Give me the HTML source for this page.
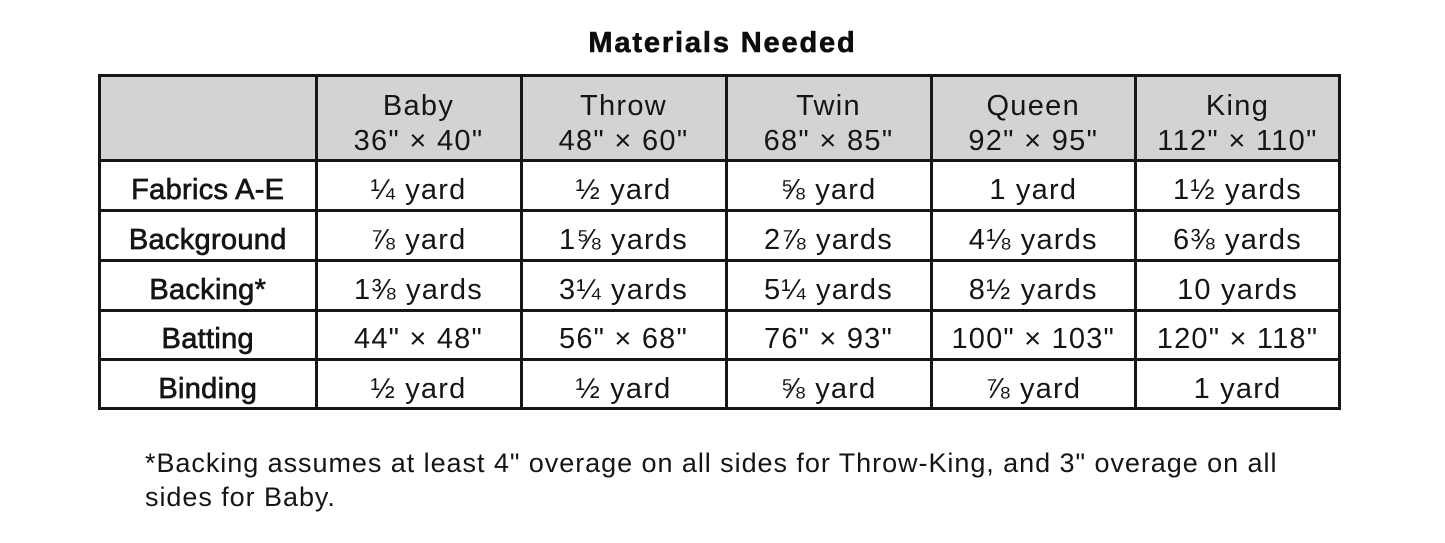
<!DOCTYPE html>
<html><head><meta charset="utf-8"><style>
html,body{margin:0;padding:0;background:#fff;}
body{width:1445px;height:543px;position:relative;overflow:hidden;font-family:"Liberation Sans",Arial,sans-serif;color:#151515;}
.a{position:absolute;}
.ln{position:absolute;background:#161616;}
.t{position:absolute;text-align:center;font-size:29px;line-height:29px;white-space:nowrap;letter-spacing:1.2px;}
.h{position:absolute;text-align:center;font-size:29px;line-height:35px;white-space:nowrap;letter-spacing:1.3px;}
.lbl{-webkit-text-stroke:0.7px #151515;letter-spacing:0.3px;}
</style></head><body>
<div class="a" style="left:0;width:1445px;top:28.5px;text-align:center;font-size:29px;line-height:29px;font-weight:bold;letter-spacing:1.85px;color:#0d0d0d;-webkit-text-stroke:0.6px #0d0d0d;">Materials Needed</div>

<div class="a" style="left:100px;top:76px;width:1240px;height:84px;background:#d1d3d4;"></div>

<div class="ln" style="left:98px;top:74px;width:1243px;height:3px;"></div>
<div class="ln" style="left:98px;top:407px;width:1243px;height:3px;"></div>
<div class="ln" style="left:98px;top:74px;width:3px;height:336px;"></div>
<div class="ln" style="left:1338px;top:74px;width:3px;height:336px;"></div>

<div class="ln" style="left:314.5px;top:74px;width:3px;height:336px;"></div>
<div class="ln" style="left:519.5px;top:74px;width:3px;height:336px;"></div>
<div class="ln" style="left:724.5px;top:74px;width:3px;height:336px;"></div>
<div class="ln" style="left:929.5px;top:74px;width:3px;height:336px;"></div>
<div class="ln" style="left:1134px;top:74px;width:3px;height:336px;"></div>

<div class="ln" style="left:98px;top:159px;width:1243px;height:3px;"></div>
<div class="ln" style="left:98px;top:209px;width:1243px;height:3px;"></div>
<div class="ln" style="left:98px;top:259px;width:1243px;height:3px;"></div>
<div class="ln" style="left:98px;top:308.5px;width:1243px;height:3px;"></div>
<div class="ln" style="left:98px;top:358px;width:1243px;height:3px;"></div>

<!-- header -->
<div class="h" style="left:316px;width:205px;top:89px;">Baby<br>36" × 40"</div>
<div class="h" style="left:521px;width:205px;top:89px;">Throw<br>48" × 60"</div>
<div class="h" style="left:726px;width:205px;top:89px;">Twin<br>68" × 85"</div>
<div class="h" style="left:931px;width:204.5px;top:89px;">Queen<br>92" × 95"</div>
<div class="h" style="left:1135.5px;width:204px;top:89px;">King<br>112" × 110"</div>

<!-- row 1 -->
<div class="t lbl" style="left:99.5px;width:216.5px;top:175.5px;">Fabrics A-E</div>
<div class="t" style="left:316px;width:205px;top:175.5px;">¼ yard</div>
<div class="t" style="left:521px;width:205px;top:175.5px;">½ yard</div>
<div class="t" style="left:726px;width:205px;top:175.5px;">⅝ yard</div>
<div class="t" style="left:931px;width:204.5px;top:175.5px;">1 yard</div>
<div class="t" style="left:1135.5px;width:204px;top:175.5px;">1½ yards</div>

<!-- row 2 -->
<div class="t lbl" style="left:99.5px;width:216.5px;top:225.5px;">Background</div>
<div class="t" style="left:316px;width:205px;top:225.5px;">⅞ yard</div>
<div class="t" style="left:521px;width:205px;top:225.5px;">1⅝ yards</div>
<div class="t" style="left:726px;width:205px;top:225.5px;">2⅞ yards</div>
<div class="t" style="left:931px;width:204.5px;top:225.5px;">4⅛ yards</div>
<div class="t" style="left:1135.5px;width:204px;top:225.5px;">6⅜ yards</div>

<!-- row 3 -->
<div class="t lbl" style="left:99.5px;width:216.5px;top:275.5px;">Backing*</div>
<div class="t" style="left:316px;width:205px;top:275.5px;">1⅜ yards</div>
<div class="t" style="left:521px;width:205px;top:275.5px;">3¼ yards</div>
<div class="t" style="left:726px;width:205px;top:275.5px;">5¼ yards</div>
<div class="t" style="left:931px;width:204.5px;top:275.5px;">8½ yards</div>
<div class="t" style="left:1135.5px;width:204px;top:275.5px;">10 yards</div>

<!-- row 4 -->
<div class="t lbl" style="left:99.5px;width:216.5px;top:325px;">Batting</div>
<div class="t" style="left:316px;width:205px;top:325px;">44" × 48"</div>
<div class="t" style="left:521px;width:205px;top:325px;">56" × 68"</div>
<div class="t" style="left:726px;width:205px;top:325px;">76" × 93"</div>
<div class="t" style="left:931px;width:204.5px;top:325px;">100" × 103"</div>
<div class="t" style="left:1135.5px;width:204px;top:325px;">120" × 118"</div>

<!-- row 5 -->
<div class="t lbl" style="left:99.5px;width:216.5px;top:375px;">Binding</div>
<div class="t" style="left:316px;width:205px;top:375px;">½ yard</div>
<div class="t" style="left:521px;width:205px;top:375px;">½ yard</div>
<div class="t" style="left:726px;width:205px;top:375px;">⅝ yard</div>
<div class="t" style="left:931px;width:204.5px;top:375px;">⅞ yard</div>
<div class="t" style="left:1135.5px;width:204px;top:375px;">1 yard</div>

<div class="a" style="left:145px;top:446.3px;font-size:27px;line-height:34px;letter-spacing:0.95px;white-space:nowrap;">*Backing assumes at least 4" overage on all sides for Throw-King, and 3" overage on all<br>sides for Baby.</div>
</body></html>
